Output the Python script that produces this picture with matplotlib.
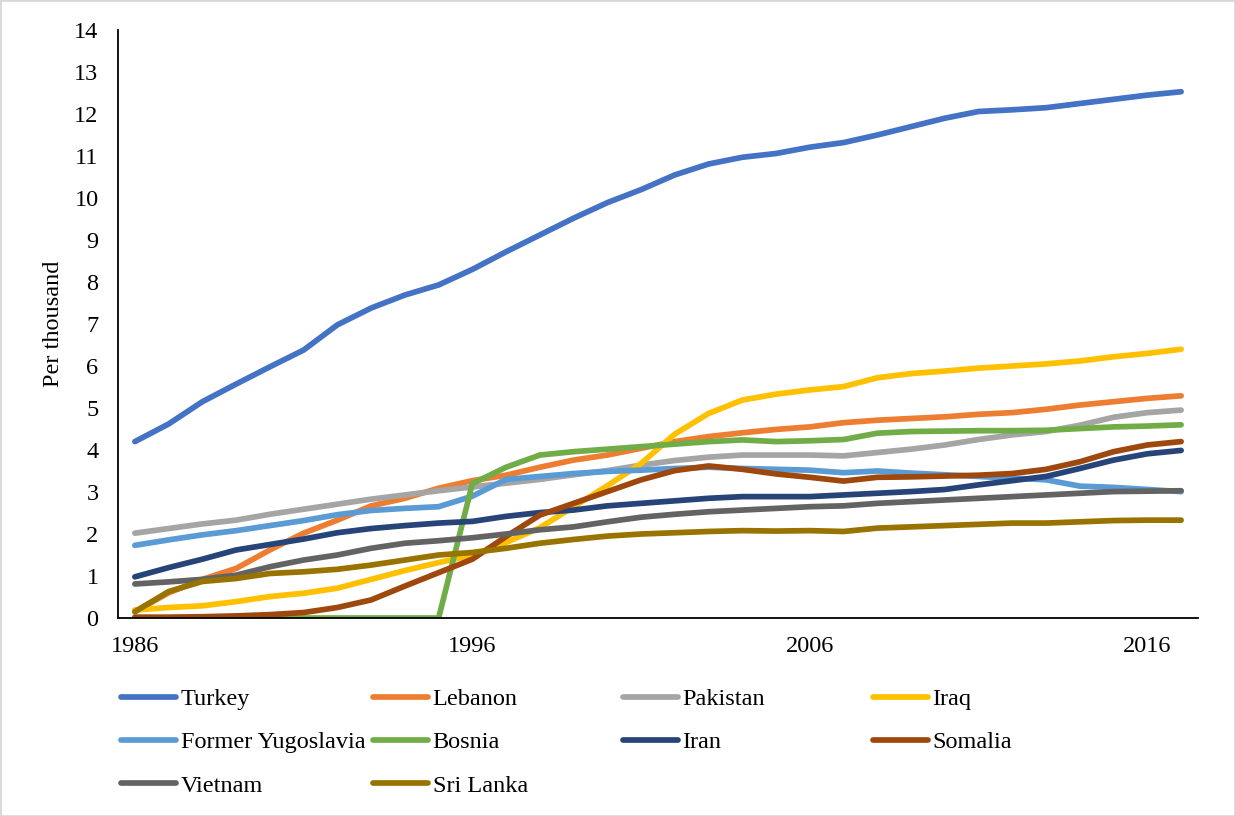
import matplotlib
matplotlib.use("Agg")
import matplotlib.pyplot as plt
from matplotlib.patches import Rectangle

years = list(range(1986, 2018))

turkey = [4.2, 4.62, 5.15, 5.57, 5.98, 6.38, 6.98, 7.38, 7.69, 7.93, 8.3, 8.72, 9.12, 9.52, 9.89, 10.2,
          10.55, 10.81, 10.97, 11.06, 11.21, 11.32, 11.5, 11.7, 11.9, 12.06, 12.1, 12.15, 12.25, 12.35, 12.45, 12.53]
lebanon = [0.15, 0.6, 0.92, 1.18, 1.62, 2.02, 2.33, 2.67, 2.85, 3.09, 3.27, 3.4, 3.59, 3.76, 3.88, 4.04,
           4.2, 4.32, 4.41, 4.49, 4.55, 4.65, 4.71, 4.75, 4.79, 4.85, 4.89, 4.97, 5.07, 5.15, 5.23, 5.29]
pakistan = [2.02, 2.13, 2.24, 2.33, 2.47, 2.59, 2.71, 2.83, 2.93, 3.03, 3.12, 3.21, 3.3, 3.41, 3.51, 3.64,
            3.75, 3.83, 3.88, 3.88, 3.88, 3.86, 3.94, 4.02, 4.12, 4.25, 4.36, 4.44, 4.59, 4.78, 4.89, 4.95]
iraq = [0.19, 0.25, 0.29, 0.39, 0.51, 0.59, 0.71, 0.92, 1.13, 1.32, 1.5, 1.8, 2.15, 2.65, 3.15, 3.68,
        4.38, 4.87, 5.19, 5.33, 5.43, 5.51, 5.72, 5.82, 5.88, 5.95, 6.0, 6.05, 6.12, 6.22, 6.3, 6.4]
former_yugoslavia = [1.73, 1.86, 1.98, 2.08, 2.2, 2.32, 2.46, 2.56, 2.61, 2.65, 2.9, 3.3, 3.37, 3.44, 3.49, 3.52,
                     3.56, 3.59, 3.56, 3.54, 3.52, 3.46, 3.5, 3.45, 3.41, 3.37, 3.33, 3.29, 3.14, 3.11, 3.06, 3.01]
bosnia = [0, 0, 0, 0, 0, 0, 0, 0, 0, 0, 3.2, 3.59, 3.88, 3.96, 4.02, 4.08,
          4.14, 4.2, 4.24, 4.2, 4.22, 4.25, 4.4, 4.44, 4.45, 4.46, 4.46, 4.47, 4.51, 4.55, 4.57, 4.6]
iran = [0.98, 1.2, 1.4, 1.62, 1.75, 1.88, 2.03, 2.13, 2.2, 2.26, 2.3, 2.42, 2.51, 2.57, 2.67, 2.73,
        2.79, 2.85, 2.89, 2.89, 2.89, 2.93, 2.97, 3.01, 3.06, 3.17, 3.27, 3.37, 3.56, 3.76, 3.91, 3.99]
somalia = [0.02, 0.02, 0.03, 0.05, 0.08, 0.13, 0.25, 0.43, 0.76, 1.08, 1.4, 1.94, 2.45, 2.73, 3.01, 3.29,
           3.51, 3.62, 3.54, 3.43, 3.35, 3.26, 3.35, 3.36, 3.38, 3.4, 3.44, 3.54, 3.72, 3.96, 4.12, 4.2]
vietnam = [0.81, 0.86, 0.92, 1.02, 1.22, 1.38, 1.5, 1.66, 1.78, 1.84, 1.91, 2.0, 2.1, 2.17, 2.29, 2.4,
           2.47, 2.53, 2.57, 2.61, 2.65, 2.67, 2.73, 2.77, 2.81, 2.85, 2.89, 2.93, 2.97, 3.01, 3.02, 3.03]
sri_lanka = [0.15, 0.63, 0.87, 0.94, 1.06, 1.1, 1.16, 1.26, 1.38, 1.5, 1.56, 1.66, 1.78, 1.87, 1.95, 2.0,
             2.03, 2.06, 2.08, 2.07, 2.08, 2.06, 2.14, 2.17, 2.2, 2.23, 2.26, 2.26, 2.29, 2.32, 2.33, 2.33]

names = ["Turkey", "Lebanon", "Pakistan", "Iraq", "Former Yugoslavia",
         "Bosnia", "Iran", "Somalia", "Vietnam", "Sri Lanka"]
series = [turkey, lebanon, pakistan, iraq, former_yugoslavia,
          bosnia, iran, somalia, vietnam, sri_lanka]
colors = ["#4472C4", "#ED7D31", "#A5A5A5", "#FFC000", "#5B9BD5",
          "#70AD47", "#264478", "#9E480E", "#636363", "#997300"]

x_ticks = [1986, 1996, 2006, 2016]
y_ticks = list(range(0, 15))

plt.rcParams['font.family'] = ['Liberation Serif', 'DejaVu Serif']
FS = 17.5

W, H = 1235, 816
fig = plt.figure(figsize=(W / 100, H / 100), dpi=100)
ax = fig.add_axes([118 / W, 1 - 618 / H, (1198 - 118) / W, (618 - 30) / H])

handles = []
for name, vals, c in zip(names, series, colors):
    ln, = ax.plot(years, vals, color=c, lw=4.1, solid_capstyle='round',
                  solid_joinstyle='round', label=name)
    handles.append(ln)

ax.set_xlim(1985.5, 2017.5)
ax.set_ylim(0, 14)
ax.set_xticks(x_ticks)
ax.set_xticklabels([str(v) for v in x_ticks])
ax.set_yticks(y_ticks)
ax.tick_params(axis='both', length=0, labelsize=FS, colors='black')
ax.tick_params(axis='y', pad=14)
ax.tick_params(axis='x', pad=13)
for s in ['top', 'right']:
    ax.spines[s].set_visible(False)
for s in ['left', 'bottom']:
    ax.spines[s].set_color('black')
    ax.spines[s].set_linewidth(1.3)

ax.set_ylabel("Per thousand", fontsize=FS)
ax.yaxis.set_label_coords((64 - 118) / 1080, 0.5)

# legend: 4 columns, filled row-wise (Excel style)
col_x = [121, 373, 623, 873]
top_y = 688
for j in range(4):
    idx = [j + 4 * r for r in range(3) if j + 4 * r < len(names)]
    fig.legend([handles[i] for i in idx], [names[i] for i in idx],
               loc='upper left', bbox_to_anchor=(col_x[j] / W, 1 - top_y / H),
               frameon=False, fontsize=FS, handlelength=2.25, handletextpad=0.2,
               labelspacing=0.88, borderpad=0, borderaxespad=0)

fig.patches.append(Rectangle((0, 0), 1, 1, transform=fig.transFigure, fill=False,
                             edgecolor='#d9d9d9', lw=2))

fig.savefig("out.png", dpi=100)
